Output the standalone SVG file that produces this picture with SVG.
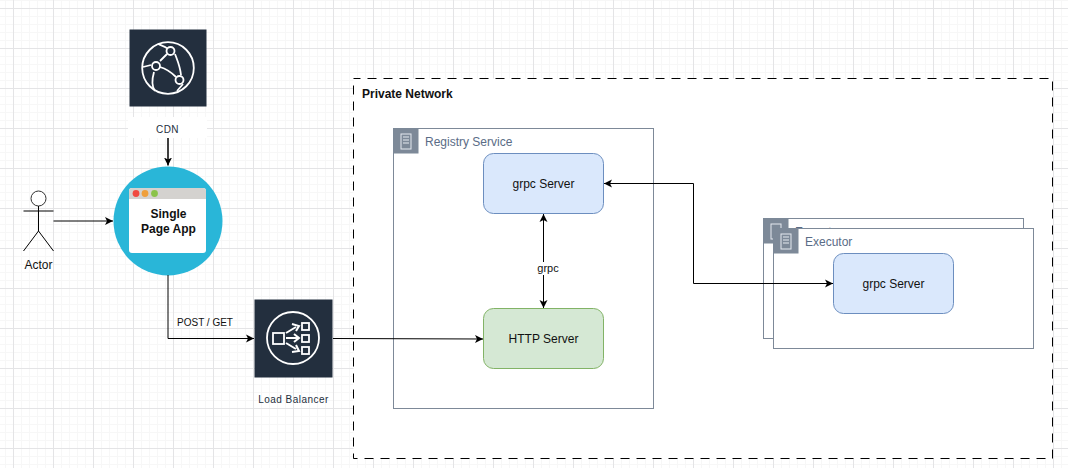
<svg xmlns="http://www.w3.org/2000/svg" width="1068" height="468" viewBox="0 0 1068 468">
<style>
text{font-family:"Liberation Sans",Arial,sans-serif;font-size:12px;fill:#111;text-anchor:middle}
.b{font-weight:bold}
.aws{font-size:10px;fill:#232f3e;letter-spacing:.45px}
.grp{fill:#fff;stroke:#7d8998;stroke-width:1}
.gl{fill:#5a6c86;font-size:12px;text-anchor:start}
.tab{fill:#7d8998}
.srv{fill:none;stroke:#e6eaf0;stroke-width:1}
.blue{fill:#dae8fc;stroke:#6c8ebf}
.green{fill:#d5e8d4;stroke:#82b366}
.ln{fill:none;stroke:#000;stroke-width:1}
.ic{fill:none;stroke:#fff;stroke-width:1.8}
.sm{font-size:10px}
</style>
<defs>
<pattern id="grid" width="40" height="40" patternUnits="userSpaceOnUse" x="13" y="8">
<path d="M8.500 0V40M16.500 0V40M24.500 0V40M32.500 0V40M0 8.500H40M0 16.500H40M0 24.500H40M0 32.500H40" fill="none" stroke="#f7f7f7" stroke-width="1"/>
<path d="M.5 0V40M0 .5H40" fill="none" stroke="#e4e4e6" stroke-width="1"/>
</pattern>
<marker id="arr" markerWidth="9" markerHeight="9" viewBox="0 0 9 9" refX="8" refY="4.500" orient="auto" markerUnits="userSpaceOnUse"><path d="M0 .5L8 4.500L0 8.500L2 4.500Z" fill="#000"/></marker>
<marker id="arrs" markerWidth="9" markerHeight="9" viewBox="0 0 9 9" refX="1" refY="4.500" orient="auto" markerUnits="userSpaceOnUse"><path d="M9 .5L1 4.500L9 8.500L7 4.500Z" fill="#000"/></marker>
</defs>
<rect width="1068" height="468" fill="#fff"/>
<rect width="1068" height="468" fill="url(#grid)"/>

<g id="private-network">
<rect x="353.500" y="78.500" width="699" height="380" fill="#fff" stroke="#000" stroke-dasharray="9 7" stroke-dashoffset="2"/>
<text class="b" x="362" y="98" style="text-anchor:start">Private Network</text>
</g>

<g id="cdn">
<rect x="129.500" y="29.500" width="77" height="77" fill="#232f3e"/>
<g class="ic">
<circle cx="168" cy="68" r="25.800"/>
<path d="M158 44C163 46 166 47 170 50M143 67L151 65M154 72C152 79 152 87 155 91M160 61L167 54M175 54C178 62 180 66 181 75M160 67C167 69 172 73 176 77M183 84L177 91"/>
<circle cx="170.500" cy="51" r="4" fill="#232f3e"/>
<circle cx="156" cy="66" r="4" fill="#232f3e"/>
<circle cx="179.500" cy="80" r="4" fill="#232f3e"/>
</g>
<rect x="128" y="117" width="79" height="21" fill="#fff"/>
<text class="aws" x="167.500" y="133">CDN</text>
</g>

<g id="actor" fill="none" stroke="#000">
<circle cx="38.500" cy="198.500" r="7.500" fill="#fff" stroke="#333"/>
<path d="M38.500 206V231M23.500 211H53.500M38.500 231L23.500 251M38.500 231L53.500 251"/>
<text x="38.500" y="269" stroke="none">Actor</text>
</g>

<g id="single-page-app">
<circle cx="168" cy="221" r="54.500" fill="#29b6d8"/>
<rect x="129" y="188" width="77" height="65" rx="3" fill="#fff"/>
<path d="M129 199V191a3 3 0 0 1 3-3H203a3 3 0 0 1 3 3V199Z" fill="#d4d2cf"/>
<circle cx="136" cy="193.500" r="3.400" fill="#f04a40"/>
<circle cx="145" cy="193.500" r="3.400" fill="#ef9f3a"/>
<circle cx="154.500" cy="193.500" r="3.400" fill="#8bc34a"/>
<text class="b" x="168.500" y="218">Single</text>
<text class="b" x="168.500" y="233">Page App</text>
</g>

<g id="load-balancer">
<rect x="254.500" y="299.500" width="78" height="78" fill="#232f3e"/>
<g class="ic">
<circle cx="293" cy="338" r="26"/>
<rect x="273" y="333" width="11" height="11"/>
<rect x="302" y="323" width="7" height="7"/>
<rect x="302" y="335" width="7" height="7"/>
<rect x="302" y="347" width="7" height="7"/>
</g>
<path d="M286 333L296 327M286 338H298M286 343L296 349M292 324L299 326L296 331M294 334L299 338L294 342M296 345L299 351L292 352" fill="none" stroke="#fff" stroke-width="2"/>
<text class="aws" x="293.500" y="403">Load Balancer</text>
</g>

<g id="registry-service">
<rect class="grp" x="393.500" y="128.500" width="260" height="280"/>
<rect class="tab" x="393.500" y="128.500" width="25" height="25"/>
<rect class="srv" x="401" y="134" width="10" height="15"/>
<path class="srv" d="M403 137H409M403 140H409M403 143H409"/>
<text class="gl" x="425" y="146">Registry Service</text>
</g>
<g id="registry-grpc"><rect class="blue" x="483.500" y="153.500" width="120" height="60" rx="10"/><text x="543.500" y="188">grpc Server</text></g>
<g id="registry-http"><rect class="green" x="483.500" y="308.500" width="120" height="60" rx="10"/><text x="543.500" y="343">HTTP Server</text></g>

<g id="executor-back">
<rect class="grp" x="763.500" y="218.500" width="260" height="120"/>
<rect class="tab" x="763.500" y="218.500" width="25" height="25"/>
<rect class="srv" x="771" y="224" width="10" height="15"/>
<text class="gl" x="795" y="236">Executor</text>
</g>
<g id="executor">
<rect class="grp" x="773.500" y="228.500" width="260" height="120"/>
<rect class="tab" x="773.500" y="228.500" width="25" height="25"/>
<rect class="srv" x="781" y="234" width="10" height="15"/>
<path class="srv" d="M783 237H789M783 240H789M783 243H789"/>
<text class="gl" x="805" y="246">Executor</text>
</g>
<g id="executor-grpc"><rect class="blue" x="833.500" y="253.500" width="120" height="60" rx="10"/><text x="893.500" y="288">grpc Server</text></g>

<g id="connectors">
<path class="ln" d="M168 138V165.500" marker-end="url(#arr)" style="stroke-width:1.500"/>
<path class="ln" d="M53.500 221H113" marker-end="url(#arr)"/>
<path class="ln" d="M168 275V338.500H254" marker-end="url(#arr)"/>
<path class="ln" d="M333 338.500L483 339" marker-end="url(#arr)"/>
<path class="ln" d="M543.500 214V308" marker-start="url(#arrs)" marker-end="url(#arr)"/>
<path class="ln" d="M604 183.500H693.500V283.500H833" marker-start="url(#arrs)" marker-end="url(#arr)"/>
<rect x="534" y="262" width="24" height="13" fill="#fff"/>
<text x="548" y="272" class="sm" style="font-size:11px">grpc</text>
<text x="205" y="326" class="sm">POST / GET</text>
</g>
</svg>
